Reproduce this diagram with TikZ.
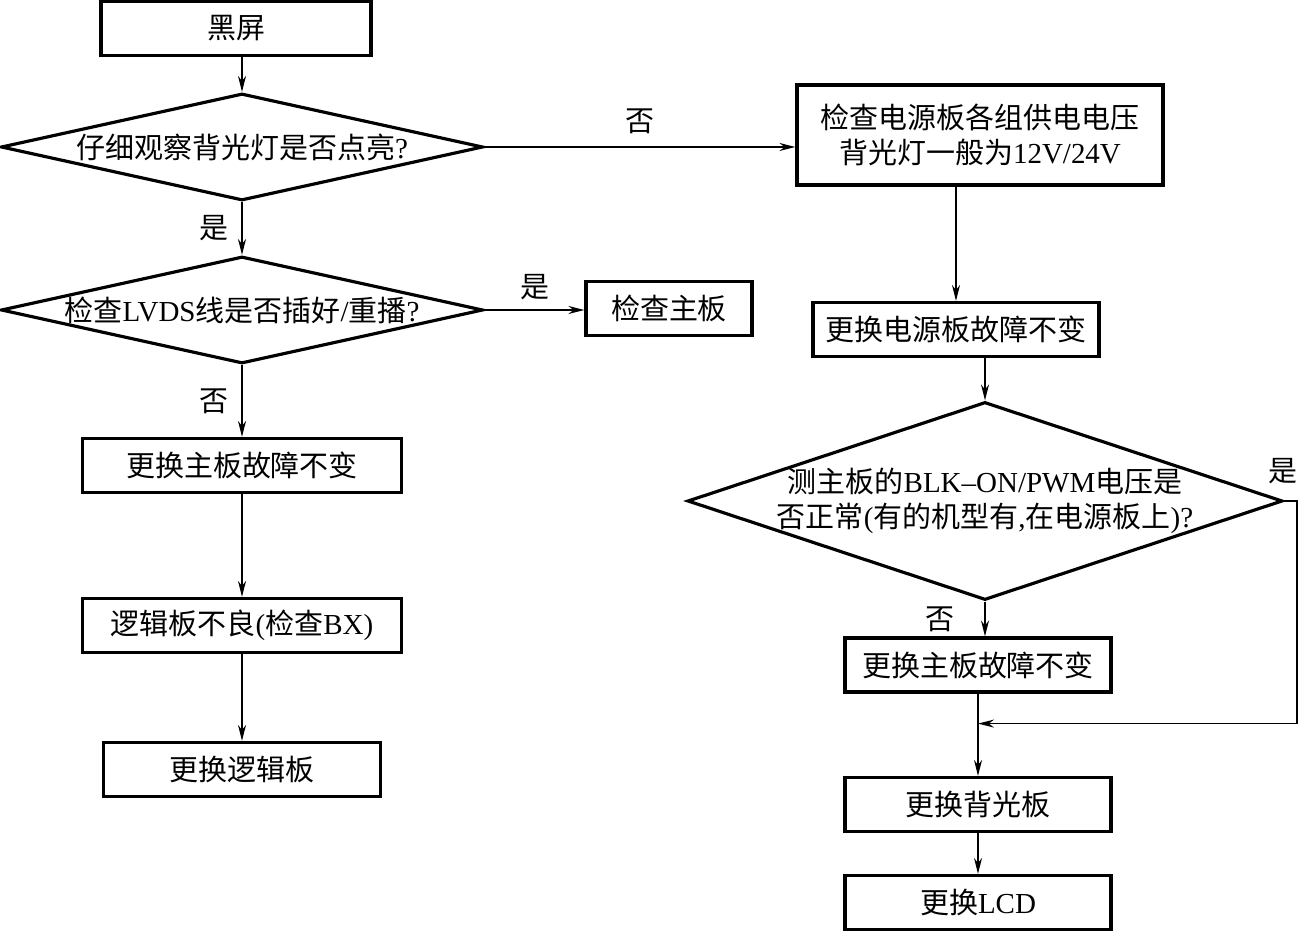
\documentclass[tikz,border=0pt]{standalone}
\usepackage{fontspec}
\setmainfont{Liberation Serif}
\newfontfamily\cjk{Noto Sans CJK SC}
\newcommand{\zh}[1]{{\cjk #1}}
\newcommand{\px}{0.02cm}
\usetikzlibrary{arrows.meta,positioning,shapes.geometric}

\begin{document}
\begin{tikzpicture}[
		x=\px, y=-\px,
		every node/.style={font=\fontsize{16.5}{20}\selectfont},
		arrow/.style={line width=1pt, -{Stealth[length=3.2mm, width=1.6mm]}},
		block/.style={draw, line width=1.8pt, minimum height=54*\px, inner sep=2pt},
		decision/.style={draw, diamond, line width=1.8pt, inner sep=0pt, align=center},
		answer/.style={inner sep=3pt},
	]
	\useasboundingbox (0,0) rectangle (1306,932);

	% left column
	\node[block, minimum width=270*\px] (black screen) at (236,28.5) {\zh{黑屏}};
	\node[decision, minimum width=482*\px, minimum height=107*\px, aspect=4.5] (backlight) at (242,147) {\zh{仔细观察背光灯是否点亮}?};
	\node[decision, minimum width=482*\px, minimum height=107*\px, aspect=4.5] (lvds) at (242,310) {\zh{检查}LVDS\zh{线是否插好}/\zh{重播}?};
	\node[block, minimum width=166*\px] (check main) at (669,308.5) {\zh{检查主板}};
	\node[block, minimum width=319*\px] (swap main left) at (242,465.5) {\zh{更换主板故障不变}};
	\node[block, minimum width=319*\px] (tcon) at (242,625.5) {\zh{逻辑板不良}(\zh{检查}BX)};
	\node[block, minimum width=277*\px] (swap tcon) at (242,769.5) {\zh{更换逻辑板}};

	% right column
	\node[block, minimum width=366*\px, minimum height=100*\px, align=center] (check power) at (980,135) {\zh{检查电源板各组供电电压}\\\zh{背光灯一般为}12V/24V};
	\node[block, minimum width=286*\px] (swap power) at (956,329.5) {\zh{更换电源板故障不变}};
	\node[decision, minimum width=595*\px, minimum height=198*\px, aspect=3, inner ysep=-3pt] (blk on) at (985,501) {\zh{测主板的}BLK--ON/PWM\zh{电压是}\\\zh{否正常}(\zh{有的机型有},\zh{在电源板上})?};
	\node[block, minimum width=266*\px] (swap main right) at (978,665) {\zh{更换主板故障不变}};
	\node[block, minimum width=266*\px] (swap backlight) at (978,804.5) {\zh{更换背光板}};
	\node[block, minimum width=266*\px] (swap lcd) at (978,902.5) {\zh{更换}LCD};
	\path (swap main right.south) ++(0,30) coordinate (merge);

	\draw[arrow] (black screen.south -| backlight.north) -- (backlight.north);
	\draw[arrow] (backlight.south) -- node[answer, left=4pt] {\zh{是}} (lvds.north);
	\draw[arrow] (backlight.east) -- node[answer, above=4pt] {\zh{否}} (backlight.east -| check power.west);
	\draw[arrow] (lvds.east) -- node[answer, above=2pt] {\zh{是}} (lvds.east -| check main.west);
	\draw[arrow] (lvds.south) -- node[answer, left=4pt] {\zh{否}} (swap main left.north);
	\draw[arrow] (swap main left) -- (tcon);
	\draw[arrow] (tcon) -- (swap tcon);

	\draw[arrow] (check power.south -| swap power.north) -- (swap power.north);
	\draw[arrow] (swap power.south -| blk on.north) -- (blk on.north);
	\draw[arrow] (blk on.south) -- node[answer, left=14pt] {\zh{否}} (blk on.south |- swap main right.north);
	\draw[arrow] (swap main right.south) -- (swap backlight.north);
	\draw[arrow] (blk on.east) -- ++(13,0) node[answer, above=6pt, xshift=-0.28cm] {\zh{是}} |- (merge);
	\draw[arrow] (swap backlight) -- (swap lcd);
\end{tikzpicture}
\end{document}
